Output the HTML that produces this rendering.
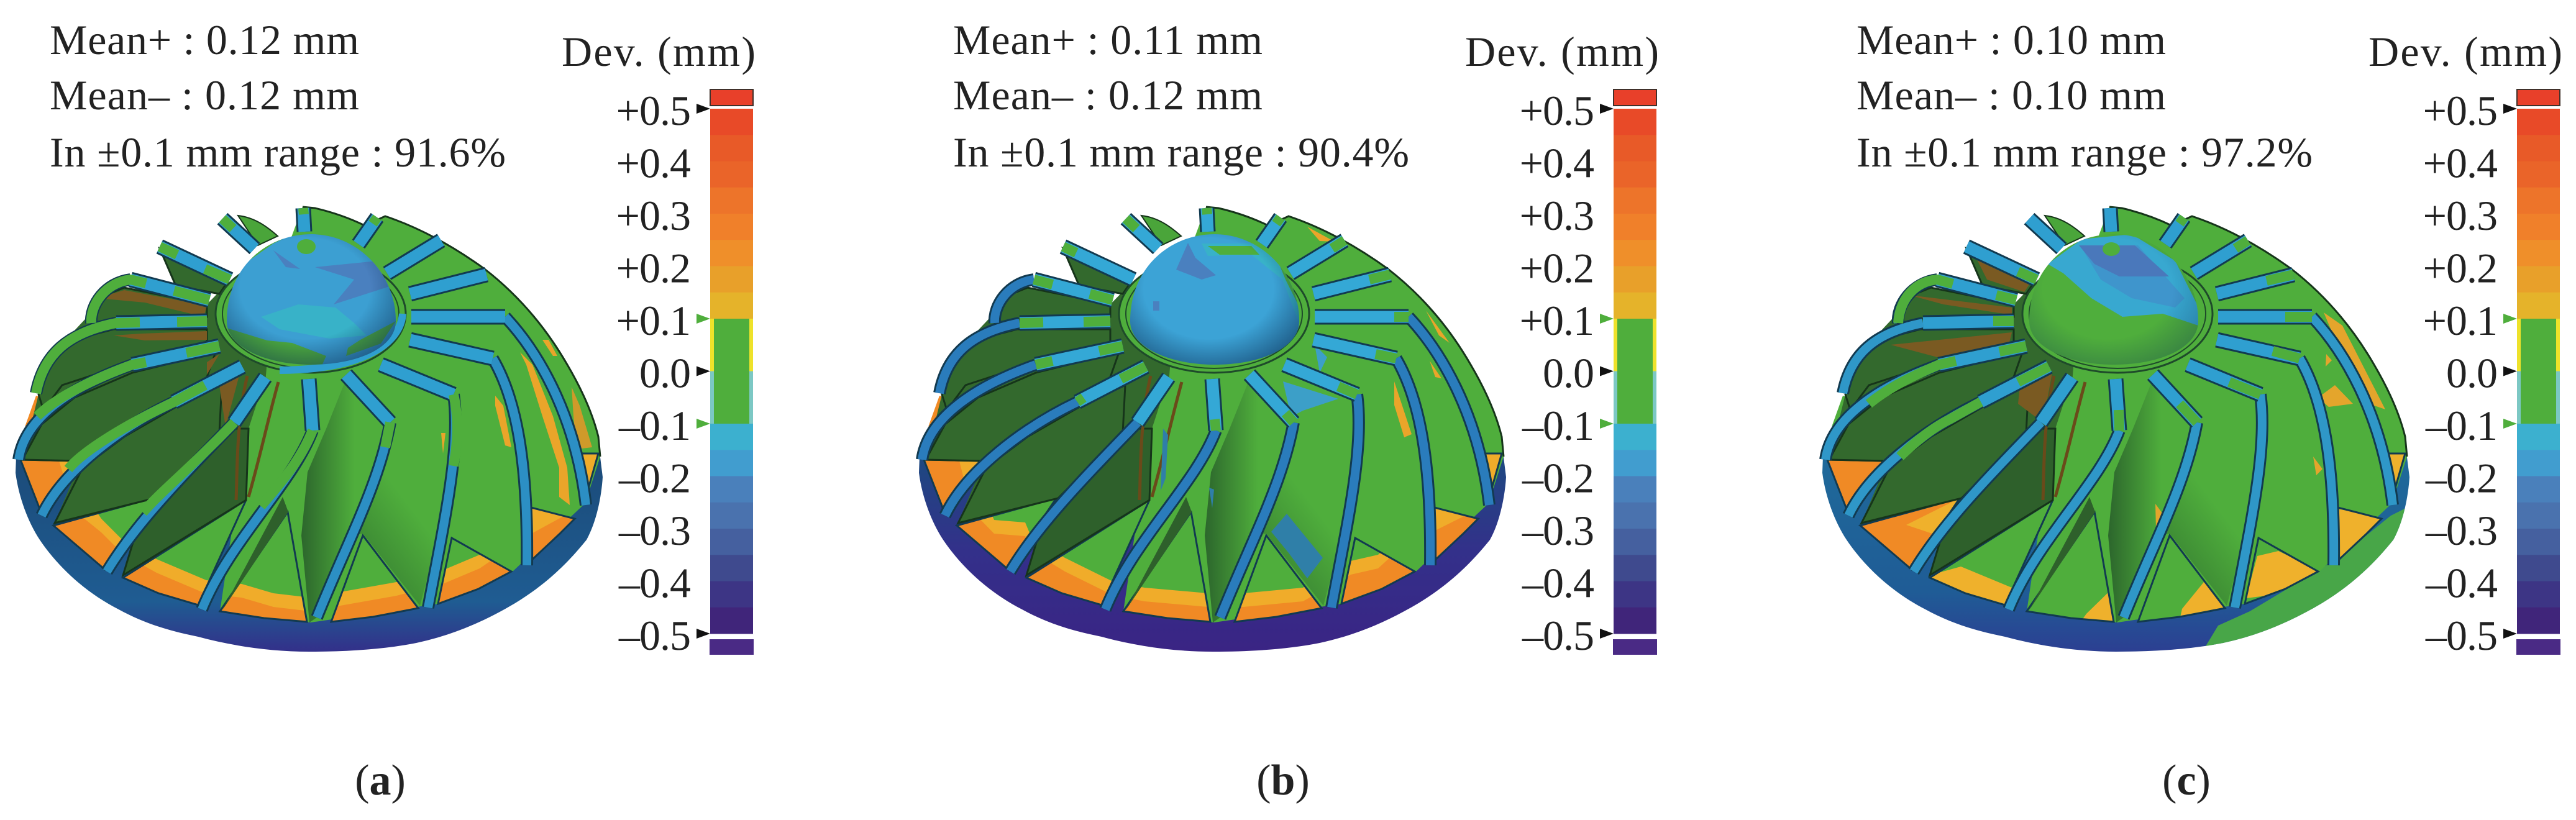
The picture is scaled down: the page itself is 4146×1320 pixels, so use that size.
<!DOCTYPE html>
<html lang="en">
<head>
<meta charset="utf-8">
<title>Deviation maps of impeller (a), (b), (c)</title>
<style>
html,body{margin:0;padding:0;background:#fff;width:4146px;height:1320px;overflow:hidden}
svg{display:block}
text{font-family:"Liberation Serif",serif;fill:#222}
</style>
</head>
<body>
<svg id="figure" xmlns="http://www.w3.org/2000/svg" width="4146" height="1320" viewBox="0 0 4146 1320">
<defs>
  <linearGradient id="rimA" x1="0" y1="0" x2="0" y2="1"><stop offset="0" stop-color="#1b4a78"/><stop offset=".75" stop-color="#1f5c92"/><stop offset="1" stop-color="#33308a"/></linearGradient>
  <linearGradient id="rimB" x1="0" y1="0" x2="0" y2="1"><stop offset="0" stop-color="#1c4a80"/><stop offset=".5" stop-color="#33308a"/><stop offset="1" stop-color="#3a2484"/></linearGradient>
  <linearGradient id="rimC" x1="0" y1="0" x2="0" y2="1"><stop offset="0" stop-color="#1f6a9a"/><stop offset=".7" stop-color="#1f5c96"/><stop offset="1" stop-color="#2c3f92"/></linearGradient>
  <linearGradient id="bladeShadeA" x1="0" y1="0" x2="1" y2="0"><stop offset="0" stop-color="#2c662c"/><stop offset=".6" stop-color="#4fae3c"/></linearGradient>
  <linearGradient id="bladeShadeB" x1="0" y1="1" x2=".6" y2="0"><stop offset="0" stop-color="#2f6f2e"/><stop offset=".55" stop-color="#4fae3c"/></linearGradient>
  <radialGradient id="sphereShade" cx=".47" cy=".42" r=".6"><stop offset=".6" stop-color="#0a2a50" stop-opacity="0"/><stop offset="1" stop-color="#0a2a50" stop-opacity=".55"/></radialGradient>
  <clipPath id="sphereClip"><path d="M365,517C365,430 430,377 501,377C575,377 637,440 637,517C637,560 575,587 501,587C430,587 365,560 365,517Z"/></clipPath>
  <clipPath id="wedgeClip"><path d="M58,637L82,643L40,687ZM33,740L127,742L67,827ZM86,846L246,802L169,917ZM198,930L396,805L319,974L255,955ZM354,984L463,824L494,1001L425,995ZM533,1001L584,862L673,979L600,993ZM705,972L727,866L823,920L770,948ZM852,905L855,817L925,835L900,860ZM930,730L963,730L942,803Z"/></clipPath>
  <clipPath id="rimClip"><path d="M25,761C30,800 45,840 64,869C95,915 140,955 191,981C235,1005 275,1016 319,1025C375,1040 435,1049 498,1049C560,1049 620,1045 670,1035C730,1022 780,1000 829,971C880,940 915,905 944,869C960,840 968,800 970,768L965,728L26,735Z"/></clipPath>

  <path id="rimShape" d="M25,761C30,800 45,840 64,869C95,915 140,955 191,981C235,1005 275,1016 319,1025C375,1040 435,1049 498,1049C560,1049 620,1045 670,1035C730,1022 780,1000 829,971C880,940 915,905 944,869C960,840 968,800 970,768L965,728L26,735Z"/>
  <path id="wedgeOutlines" fill="none" d="M33,740L127,742L67,827ZM86,846L246,802L169,917ZM198,930L396,805L319,974L255,955ZM354,984L463,824L494,1001L425,995ZM533,1001L584,862L673,979L600,993ZM705,972L727,866L823,920L770,948ZM852,905L855,817L925,835L900,860ZM930,730L963,730L942,803Z"/>

  <path id="spokePaths" fill="none" stroke-linejoin="round" d="M370,450L257,397 M410,400L358,352 M490,373L488,335 M577,393L607,350 M623,440L710,387 M660,473L783,442 M662,510L813,510 M660,547L793,577 M613,587L730,635 M557,603L628,680 M497,610L503,693 M427,607L377,680 M390,590L280,647 M353,557L213,587 M333,517L187,520 M337,483L210,450"/>
  <path id="curvePaths" fill="none" stroke-linejoin="round" d="M813,510C860,560 925,660 943,813 M793,577C830,640 850,740 848,910 M730,635C742,720 715,840 689,978 M628,680C610,780 560,870 510,994 M503,693C470,780 370,870 325,981 M377,680C300,760 220,840 172,920 M280,647C190,690 100,760 67,830 M213,587C120,620 40,670 30,740 M187,520C110,535 70,570 58,633 M210,450C170,455 145,490 147,520"/>

  <g id="bodyBright">
    <path fill="#4fae3c" d="M487,333L507,335Q550,345 587,363L620,348Q700,375 780,433Q860,495 913,587Q950,650 963,703L966,735L942,810L825,920L705,972L500,1002L354,984L396,700L420,610L440,460Z"/>
    <path fill="none" stroke="#16341a" stroke-width="3" d="M487,333L507,335Q550,345 587,363L620,348Q700,375 780,433Q860,495 913,587Q950,650 963,703L966,735"/>
    <path fill="#4aa53a" stroke="#16341a" stroke-width="2" d="M383,347C410,350 430,365 447,380L415,395Z"/>
  </g>
  <g id="bladeFaces">
    <path fill="#33692d" d="M62,635L77,583L117,535L150,500L150,483L200,463L333,490L367,455L440,460L420,700L396,805L198,926L249,802L88,842L130,742L36,740Z"/>
    <path fill="url(#bladeShadeA)" d="M498,1002L485,862L495,760L525,690L557,610L628,680L605,770L561,862L510,994Z"/>
    <path fill="url(#bladeShadeB)" d="M628,680L605,770L561,862L584,859L676,975L706,860L722,770L737,690L730,635L613,587Z"/>
    <path fill="#4fae3c" d="M400,690L396,805L463,824L490,760L503,693L497,610L427,607Z"/>
    <path fill="#33692d" stroke="#16341a" stroke-width="3" d="M150,483L147,520L187,513L333,510L333,490L200,463Z"/>
    <path fill="#33692d" stroke="#16341a" stroke-width="3" d="M62,635L77,583L117,547L183,530L333,530L333,550L213,583L100,620L70,660Z"/>
    <path fill="#33692d" stroke="#16341a" stroke-width="3" d="M36,740L67,683L120,640L213,600L347,567L333,607L277,643L130,742Z"/>
    <path fill="#33692d" stroke="#16341a" stroke-width="3" d="M88,842L133,753L200,703L287,653L357,620L353,697L249,802Z"/>
    <path fill="#2e602b" stroke="#16341a" stroke-width="3" d="M377,690L265,800L215,870L198,926L396,805L400,690Z"/>
    <path fill="#33692d" stroke="#16341a" stroke-width="3" d="M257,400L283,460L353,473L367,453Z"/>
    <path fill="#2e602b" d="M358,982L455,800L464,824Z"/>
    <path fill="none" stroke="#6a4a1a" stroke-width="5" d="M398,605C380,680 382,760 380,805 M448,615C430,680 420,730 400,800"/>
  </g>
  <g id="hubRing">
    <ellipse cx="500" cy="505" rx="153" ry="95" fill="#4fae3c" stroke="#1e4a2a" stroke-width="3"/>
    <ellipse cx="500" cy="505" rx="142" ry="88" fill="none" stroke="#1e4a2a" stroke-width="2"/>
  </g>
</defs>

<!-- PANEL A -->
<g>
  <text x="80" y="87" font-size="68" textLength="498">Mean+ : 0.12 mm</text>
  <text x="80" y="176" font-size="68" textLength="498">Mean– : 0.12 mm</text>
  <text x="80" y="268" font-size="68" textLength="734">In ±0.1 mm range : 91.6%</text>
  <text x="904" y="106" font-size="68" textLength="312">Dev. (mm)</text>
  <text x="612" y="1279" font-size="70" text-anchor="middle">(<tspan font-weight="bold">a</tspan>)</text>
  <g>
    <use href="#rimShape" fill="url(#rimA)"/>
    <use href="#bodyBright"/>
    <g clip-path="url(#wedgeClip)">
      <rect x="20" y="620" width="960" height="400" fill="#f08a25"/>
      <path fill="#f0ac2a" transform="translate(0,22)" d="M70,640L120,800L163,835L198,870L252,900L332,934L389,940L440,955L491,961L542,954L638,937L715,917L772,893L850,840L960,780L960,640Z"/>
      <path fill="#4fae3c" d="M100,640L140,800L163,835L198,870L252,900L332,934L389,940L440,955L491,961L542,954L638,937L715,917L772,893L800,860L840,700Z"/>
    </g>
    <use href="#wedgeOutlines" stroke="#123a50" stroke-width="3"/>
    <use href="#bladeFaces"/>
    <path fill="#eaa52a" d="M837,567L857,587L890,670L913,753L917,813L900,800L900,753L873,670L847,587ZM797,637L810,653L823,720L813,717L797,653ZM873,547L883,547L897,573L890,573ZM710,697L717,697L713,730Z"/>
    <path fill="#cf9a2a" d="M920,623L933,653L953,720L928,723L923,670Z"/>
    <path fill="#7a5a22" d="M157,480L200,467L333,492L328,510L233,487ZM183,540L227,537L333,533L333,547L233,548ZM353,570L333,603L333,583ZM353,620L387,597L363,687Z"/>
    <use href="#curvePaths" stroke="#123a50" stroke-width="20"/>
    <use href="#curvePaths" stroke="#2c8fc4" stroke-width="14"/>
    <use href="#spokePaths" stroke="#123a50" stroke-width="25"/>
    <use href="#spokePaths" stroke="#2f9fd0" stroke-width="19"/>
    <path fill="none" stroke="#4fae3c" stroke-width="16" d="M370,450L330,433 M257,397L285,410 M358,352L375,368 M337,483L280,468 M235,456L210,450C170,455 145,490 147,520 M333,517L285,518 M225,519L187,520C110,535 70,570 58,633 M353,557L300,568 M235,583L213,587C150,610 90,640 60,670 M330,620L280,647C190,690 130,730 110,755 M377,680C300,760 260,790 230,825 M503,693C480,750 440,790 420,815 M628,680L620,720 M730,635C740,680 735,720 730,750 M488,335L489,345 M607,350L600,360"/>
    <use href="#hubRing"/>
    <path fill="none" stroke="#2f9fd0" stroke-width="12" d="M648,505C645,550 590,595 450,596"/>
    <g clip-path="url(#sphereClip)">
      <rect x="355" y="370" width="290" height="225" fill="#3c9fd2"/>
      <path fill="#4a80bf" d="M440,403L483,433L460,430ZM507,430L607,420L630,460L537,490L570,450Z"/>
      <path fill="#38b2c8" d="M420,510L480,490L540,495L570,520L590,540L530,545L450,530Z"/>
      <path fill="#4fae3c" d="M355,525L430,548L470,552L525,573L515,595L400,595L355,560ZM560,560L580,547L637,517L613,553L557,573ZM395,410L467,379L440,392L400,420Z"/>
      <ellipse cx="493" cy="397" rx="15" ry="12" fill="#4fae3c"/>
      <rect x="355" y="370" width="290" height="225" fill="url(#sphereShade)"/>
    </g>
  </g>
  <g class="colorbar"></g>
</g>

<!-- PANEL B -->
<g transform="translate(1454,0)">
  <text x="80" y="87" font-size="68" textLength="498">Mean+ : 0.11 mm</text>
  <text x="80" y="176" font-size="68" textLength="498">Mean– : 0.12 mm</text>
  <text x="80" y="268" font-size="68" textLength="734">In ±0.1 mm range : 90.4%</text>
  <text x="904" y="106" font-size="68" textLength="312">Dev. (mm)</text>
  <text x="611" y="1279" font-size="70" text-anchor="middle">(<tspan font-weight="bold">b</tspan>)</text>
  <g>
    <use href="#rimShape" fill="url(#rimB)"/>
    <use href="#bodyBright"/>
    <g clip-path="url(#wedgeClip)">
      <rect x="20" y="620" width="960" height="400" fill="#f08a25"/>
      <path fill="#f0ac2a" transform="translate(0,22)" d="M70,640L110,800L146,837L196,841L206,865L260,898L337,936L388,946L490,955L547,955L643,946L720,903L764,893L800,860L960,780L960,640Z"/>
      <path fill="#4fae3c" d="M100,640L130,800L146,837L196,841L206,865L260,898L337,936L388,946L490,955L547,955L643,946L720,903L764,893L800,860L840,700Z"/>
    </g>
    <use href="#wedgeOutlines" stroke="#123a50" stroke-width="3"/>
    <use href="#bladeFaces"/>
    <path fill="#eaa52a" d="M790,614L818,699L806,704L790,652ZM847,581L866,609L856,607ZM841,500L879,552L862,540ZM650,365L694,389L670,388Z"/>
    <path fill="#3c9fc8" d="M611,614L700,642L643,661L624,671ZM662,555L682,575L670,600Z"/>
    <path fill="#2f7fa8" d="M592,856L617,827L675,898L650,931L620,890ZM418,690L426,700L422,770L414,790ZM492,785L500,788L497,818Z"/>
    <use href="#curvePaths" stroke="#123a50" stroke-width="20"/>
    <use href="#curvePaths" stroke="#2a7cbc" stroke-width="14"/>
    <use href="#spokePaths" stroke="#123a50" stroke-width="25"/>
    <use href="#spokePaths" stroke="#34a8d6" stroke-width="19"/>
    <path fill="none" stroke="#4fae3c" stroke-width="16" d="M257,397L278,407 M358,352L375,368 M337,483L300,473 M240,458L210,450 M333,517L290,518 M225,519L187,520 M353,557L315,565 M240,581L213,587 M390,590L350,610 M290,640L280,647 M503,693L501,675 M628,680L615,665 M730,635L700,622 M793,577L760,570 M813,510L790,510 M783,442L750,450 M488,335L489,345 M710,387L690,400 M607,350L600,360"/>
    <use href="#hubRing"/>
    <g clip-path="url(#sphereClip)">
      <rect x="355" y="370" width="290" height="225" fill="#3ca3d6"/>
      <path fill="#4a80bf" d="M439,434L458,391L470,415L503,443L480,450ZM402,485L412,485L412,500L402,500Z"/>
      <path fill="#38b2c8" d="M480,392L570,392L630,450L637,520L610,450L560,410L490,412Z"/>
      <path fill="#4fae3c" d="M490,396L560,396L573,410L509,410ZM590,390L640,430L640,500L615,450Z"/>
      <rect x="355" y="370" width="290" height="225" fill="url(#sphereShade)"/>
    </g>
  </g>
  <g class="colorbar"></g>
</g>

<!-- PANEL C -->
<g transform="translate(2908,0)">
  <text x="80" y="87" font-size="68" textLength="498">Mean+ : 0.10 mm</text>
  <text x="80" y="176" font-size="68" textLength="498">Mean– : 0.10 mm</text>
  <text x="80" y="268" font-size="68" textLength="734">In ±0.1 mm range : 97.2%</text>
  <text x="904" y="106" font-size="68" textLength="312">Dev. (mm)</text>
  <text x="611" y="1279" font-size="70" text-anchor="middle">(<tspan font-weight="bold">c</tspan>)</text>
  <g>
    <use href="#rimShape" fill="url(#rimC)"/>
    <g clip-path="url(#rimClip)">
      <path fill="#48a648" d="M630,1060L662,1007L713,984L853,900L940,830L1000,800L1000,1060Z"/>
    </g>
    <use href="#bodyBright"/>
    <g clip-path="url(#wedgeClip)">
      <rect x="20" y="620" width="960" height="400" fill="#4fae3c"/>
      <path fill="#f08a25" d="M30,730L135,735L70,835ZM84,845L250,800L178,925Z"/>
      <path fill="#efb12c" d="M160,845L250,800L205,860ZM201,925L248,912L330,946L340,990L200,960ZM450,988L493,946L500,1005L440,1002ZM604,980L639,937L680,985L600,998ZM707,963L725,895L759,887L828,920L770,955ZM853,819L926,832L853,908ZM925,725L970,725L945,810Z"/>
    </g>
    <use href="#wedgeOutlines" stroke="#123a50" stroke-width="3"/>
    <use href="#bladeFaces"/>
    <path fill="#e4a52c" d="M832,503L862,524L931,659L905,650L862,574ZM823,640L850,620L879,650L840,655ZM815,735L830,755L820,765ZM561,811L575,830L562,850ZM836,570L845,580L835,590Z"/>
    <path fill="#7a5a22" d="M270,410L360,455L350,470L290,450ZM165,475L330,495L330,507L220,490ZM135,555L330,535L325,555L210,575ZM345,600L395,600L380,680L340,650Z"/>
    <use href="#curvePaths" stroke="#123a50" stroke-width="20"/>
    <use href="#curvePaths" stroke="#2f97c8" stroke-width="14"/>
    <use href="#spokePaths" stroke="#123a50" stroke-width="25"/>
    <use href="#spokePaths" stroke="#2f9fd0" stroke-width="19"/>
    <path fill="none" stroke="#4fae3c" stroke-width="16" d="M370,450L340,437 M337,483L305,475 M235,457L210,450C175,453 150,480 147,520 M333,517L300,517 M353,557L310,566 M240,581L213,587C170,605 130,625 100,650 M390,590L340,615 M280,647L230,675C200,690 170,715 150,735 M503,693L502,660 M628,680L600,650 M730,635L680,615 M793,577L750,565 M813,510L770,510 M783,442L740,452 M710,387L690,400 M607,350L600,360"/>
    <use href="#hubRing"/>
    <g transform="translate(-7,0)">
      <g clip-path="url(#sphereClip)">
        <rect x="355" y="370" width="290" height="225" fill="#4fae3c"/>
        <path fill="#38a8d0" d="M395,425L450,385L530,377L600,420L640,500L640,525L580,505L515,510L465,480L420,440Z"/>
        <path fill="#3f95cc" d="M450,400L540,395L615,480L600,495L530,480L480,450Z"/>
        <path fill="#4a78bb" d="M445,395L535,395L590,445L510,445L470,425Z"/>
        <ellipse cx="497" cy="401" rx="14" ry="11" fill="#4fae3c"/>
        <rect x="355" y="370" width="290" height="225" fill="url(#sphereShade)" opacity=".55"/>
      </g>
    </g>
  </g>
  <g class="colorbar"></g>
</g>
</svg>

<script>
const tickValues = [0.5, 0.4, 0.3, 0.2, 0.1, 0, -0.1, -0.2, -0.3, -0.4, -0.5];
const tickLabels = ["+0.5", "+0.4", "+0.3", "+0.2", "+0.1", "0.0", "–0.1", "–0.2", "–0.3", "–0.4", "–0.5"];
const upperBandStarts = [0.5, 0.45, 0.4, 0.35, 0.3, 0.25, 0.2, 0.15];
const upperBandColors = ["#e84a28", "#e85a28", "#ea6429", "#ed742a", "#f0802a", "#ef8f2a", "#e8a02a", "#e5b32a"];
const lowerBandStarts = [-0.1, -0.15, -0.2, -0.25, -0.3, -0.35, -0.4, -0.45];
const lowerBandColors = ["#3cb0cf", "#419dcf", "#4a80bb", "#4a72ae", "#45609f", "#3f4a8e", "#3d3585", "#40257a"];
const markerValues = [0.5, 0.1, 0, -0.1, -0.5];
const markerColors = ["#111111", "#4fae3c", "#111111", "#4fae3c", "#111111"];
const NS = "http://www.w3.org/2000/svg";
function yOf(v){ return 597.5 - 845 * v; }
function make(parent, tag, props){
  const el = document.createElementNS(NS, tag);
  for (const k in props) el.setAttribute(k, props[k]);
  parent.appendChild(el);
  return el;
}
document.querySelectorAll(".colorbar").forEach(function(bar){
  const barX = 1143, barW = 69, step = 0.05;
  upperBandStarts.forEach(function(v, i){
    const band = make(bar, "rect", {x: barX, y: yOf(v), width: barW, height: yOf(v - step) - yOf(v) + 0.5, fill: upperBandColors[i]});
    
    
  });
  lowerBandStarts.forEach(function(v, i){
    const band = make(bar, "rect", {x: barX, y: yOf(v), width: barW, height: yOf(v - step) - yOf(v) + 0.5, fill: lowerBandColors[i]});
    
    
  });
  const yellow = make(bar, "rect", {x: barX, y: yOf(0.1), width: barW, height: yOf(0) - yOf(0.1), fill: "#eee22a"});
  
  
  const teal = make(bar, "rect", {x: barX, y: yOf(0), width: barW, height: yOf(-0.1) - yOf(0), fill: "#7cc8c4"});
  
  
  const green = make(bar, "rect", {x: barX + 6, y: yOf(0.1), width: barW - 12, height: yOf(-0.1) - yOf(0.1), fill: "#4fae3c"});
  
  
  const capTop = make(bar, "rect", {x: barX, y: yOf(0.5) - 31, width: barW, height: 26, fill: "#e8402a", stroke: "#40302a", "stroke-width": 2});
  
  
  const capBottom = make(bar, "rect", {x: barX - 1, y: yOf(-0.5) + 9, width: barW + 2, height: 25, fill: "#4a2a85"});
  
  
  tickValues.forEach(function(v, i){
    const t = make(bar, "text", {x: 1111, y: yOf(v) + 26, "font-size": 68, "text-anchor": "end", "letter-spacing": "-1"});
    t.textContent = tickLabels[i];
    
    
  });
  markerValues.forEach(function(v, i){
    const y = yOf(v);
    const m = make(bar, "polygon", {points: "1121," + (y - 8) + " 1143," + y + " 1121," + (y + 8), fill: markerColors[i]});
    
    
  });
});
</script>
</body>
</html>
